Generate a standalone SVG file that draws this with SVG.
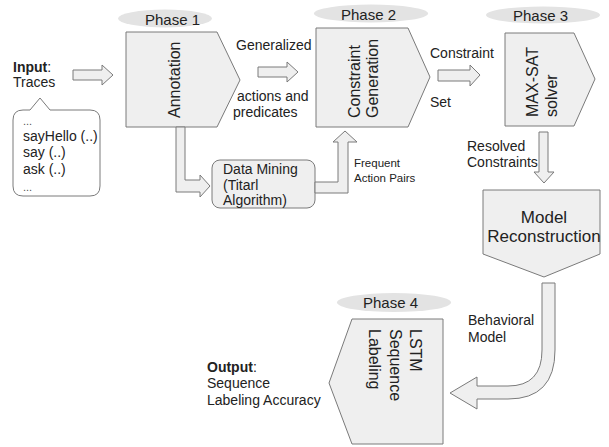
<svg xmlns="http://www.w3.org/2000/svg" width="609" height="447" viewBox="0 0 609 447">
<style>
text{font-family:"Liberation Sans",Arial,sans-serif;fill:#222;}
.box{fill:#efefef;stroke:#7a7a7a;stroke-width:1;}
.bubble{fill:#ffffff;stroke:#7a7a7a;stroke-width:1;}
.arr{fill:#efefef;stroke:#7a7a7a;stroke-width:1;stroke-linejoin:miter;}
.ph{fill:#e3e3e3;stroke:none;}
.pt{font-size:15px;}
.lbl{font-size:14px;}
.big{font-size:16px;}
.dots{font-size:11px;fill:#555;}
.sm{font-size:11.5px;}
</style>
<rect width="609" height="447" fill="#ffffff"/>

<g id="phase1">
<ellipse class="ph" cx="165" cy="18.5" rx="47" ry="9"/>
<text class="pt" x="145" y="25">Phase 1</text>
</g>
<g id="phase2">
<ellipse class="ph" cx="371" cy="13.5" rx="57" ry="9"/>
<text class="pt" x="341" y="20">Phase 2</text>
</g>
<g id="phase3">
<ellipse class="ph" cx="543" cy="15" rx="57" ry="8.5"/>
<text class="pt" x="513" y="21">Phase 3</text>
</g>
<g id="phase4">
<ellipse class="ph" cx="394" cy="302.5" rx="57" ry="9.5"/>
<text class="pt" x="363" y="308">Phase 4</text>
</g>

<g id="input">
<text class="lbl" x="13" y="72"><tspan font-weight="bold">Input</tspan>:</text>
<text class="lbl" x="13" y="87">Traces</text>
</g>

<g id="traces">
<path class="bubble" d="M23,110 H30 L40,98 L50,110 H90 Q100,110 100,120 V186 Q100,196 90,196 H23 Q13,196 13,186 V120 Q13,110 23,110 Z"/>
<text class="dots" x="23" y="125">...</text>
<text class="lbl" x="23" y="141">sayHello (..)</text>
<text class="lbl" x="23" y="157">say (..)</text>
<text class="lbl" x="23" y="174">ask (..)</text>
<text class="dots" x="23" y="191">...</text>
</g>

<g id="annotation">
<polygon class="box" points="126,32 217,32 240,80 217,127 126,127"/>
<text class="big" transform="translate(180,118) rotate(-90)">Annotation</text>
</g>

<g id="constraint-generation">
<polygon class="box" points="316,28 408,28 430,77 408,127 316,127"/>
<text class="big" transform="translate(360,118) rotate(-90)">Constraint</text>
<text class="big" transform="translate(378,118) rotate(-90)">Generation</text>
</g>

<g id="maxsat">
<polygon class="box" points="505,33 574,33 595,79 574,126 505,126"/>
<text class="big" transform="translate(538,117) rotate(-90)">MAX-SAT</text>
<text class="big" transform="translate(557,117) rotate(-90)">solver</text>
</g>

<g id="data-mining">
<rect class="box" x="212" y="160" width="103" height="48" rx="8" ry="8"/>
<text class="lbl" x="223" y="174">Data Mining</text>
<text class="lbl" x="223" y="190">(Titarl</text>
<text class="lbl" x="223" y="205">Algorithm)</text>
</g>

<g id="model-reconstruction">
<polygon class="box" points="483,190 600,190 600,254 544,277 483,254"/>
<text x="544" y="223" font-size="17" text-anchor="middle">Model</text>
<text x="544" y="242" font-size="17" text-anchor="middle">Reconstruction</text>
</g>

<g id="lstm">
<polygon class="box" points="443,319 352,319 329,383 352,444 443,444"/>
<text class="big" transform="translate(410,329) rotate(90)">LSTM</text>
<text class="big" transform="translate(390,329) rotate(90)">Sequence</text>
<text class="big" transform="translate(369,329) rotate(90)">Labeling</text>
</g>

<g id="output">
<text class="lbl" x="207" y="372"><tspan font-weight="bold">Output</tspan>:</text>
<text class="lbl" x="207" y="388">Sequence</text>
<text class="lbl" x="207" y="405">Labeling Accuracy</text>
</g>

<g id="connectors">
<path class="arr" d="M73,70 H102 V65 L113,75 L102,85 V80 H73 Z"/>
<path class="arr" d="M258,67 H287 V62 L298,72 L287,82 V77 H258 Z"/>
<path class="arr" d="M438,70 H470 V65 L480,75 L470,86 V81 H438 Z"/>
<path class="arr" d="M176,127 V192 H200 V197 L210,186 L200,175 V180 H185 V127 Z"/>
<path class="arr" d="M315,182 H338 V142 H333 L345,131 L357,142 H348 V193 H315 Z"/>
<path class="arr" d="M539,132 H548 V172 H554 L544,183 L534,172 H539 Z"/>
<path class="arr" d="M555,283 V350 Q555,399 508,399 H477 V409 L450,393 L477,377 V386 H508 Q542,386 542,350 V283 Z"/>
<text class="lbl" x="236" y="50">Generalized</text>
<text class="lbl" x="237" y="101">actions and</text>
<text class="lbl" x="233" y="117">predicates</text>
<text class="lbl" x="430" y="58">Constraint</text>
<text class="lbl" x="430" y="107">Set</text>
<text class="sm" x="354" y="167">Frequent</text>
<text class="sm" x="354" y="182">Action Pairs</text>
<text class="lbl" x="467" y="151">Resolved</text>
<text class="lbl" x="467" y="167">Constraints</text>
<text class="lbl" x="468" y="325">Behavioral</text>
<text class="lbl" x="468" y="342">Model</text>
</g>
</svg>
